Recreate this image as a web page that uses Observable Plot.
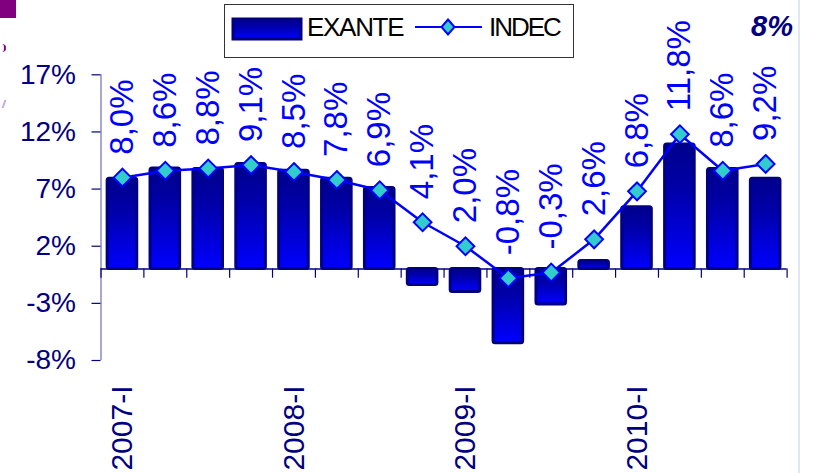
<!DOCTYPE html>
<html>
<head>
<meta charset="utf-8">
<script src="https://cdn.jsdelivr.net/npm/d3@7"></script>
<script src="https://cdn.jsdelivr.net/npm/@observablehq/plot@0.6"></script>
<style>
  html, body { margin: 0; padding: 0; background: #fff; }
  #wrap { position: relative; width: 814px; height: 473px; overflow: hidden; font-family: "Liberation Sans", Arial, sans-serif; }
  #chart { position: absolute; left: 0; top: 0; }
  #chart svg text { font-family: "Liberation Sans", Arial, sans-serif !important; }
  #legend { position: absolute; left: 224px; top: 4px; }
  #big8 { position: absolute; left: 751px; top: 10px; font: italic bold 29px "Liberation Sans", Arial, sans-serif; color: #000080; }
  #edge { position: absolute; left: 798px; top: 0; width: 2px; height: 473px; background: #dfe7f5; }
  #corner { position: absolute; left: 0; top: 0; width: 16px; height: 18px; background: #800080; }
  #curl { position: absolute; left: 0; top: 44px; width: 4px; height: 8px; border-right: 2px solid #800080; border-radius: 0 6px 6px 0; }
  #tick { position: absolute; left: 0; top: 100px; width: 3px; height: 8px; border-right: 2px solid #c9a6f0; transform: skewX(-20deg); }
</style>
</head>
<body>
<div id="wrap">
  <div id="corner"></div>
  <div id="curl"></div>
  <div id="tick"></div>
  <div id="chart"></div>
  <div id="edge"></div>
  <div id="big8">8%</div>
  <div id="legend"></div>
</div>
<script>
// ---- data ----
const quarters = ["2007-I","2007-II","2007-III","2007-IV","2008-I","2008-II","2008-III","2008-IV",
                  "2009-I","2009-II","2009-III","2009-IV","2010-I","2010-II","2010-III","2010-IV"];
const exante = [7.9, 8.8, 8.75, 9.2, 8.6, 7.9, 7.1, -1.4, -2.0, -6.5, -3.1, 0.7, 5.4, 10.9, 8.75, 7.9];
const indec  = [8.0, 8.6, 8.8, 9.1, 8.5, 7.8, 6.9, 4.1, 2.0, -0.8, -0.3, 2.6, 6.8, 11.8, 8.6, 9.2];
const yTicks = [17, 12, 7, 2, -3, -8];
const xTickLabels = ["2007-I", "2008-I", "2009-I", "2010-I"];
const seriesNames = ["EXANTE", "INDEC"];

const data = quarters.map((q, i) => ({i, q, exante: exante[i], indec: indec[i]}));
const bounds = d3.range(-0.5, quarters.length, 1);
const xTickIdx = xTickLabels.map(l => quarters.indexOf(l));
const fmt = v => v.toFixed(1).replace(".", ",") + "%";

const NAVY = "#000080", BLUE = "#0000ff", TEAL = "#33cccc";
const FONT = "'Liberation Sans', Arial, sans-serif";

const defs = () => {
  const g = d3.create("svg:defs");
  const lg = g.append("linearGradient").attr("id", "barGrad")
    .attr("x1", 0).attr("y1", 0).attr("x2", 0).attr("y2", 1);
  lg.append("stop").attr("offset", "0%").attr("stop-color", "#00008c");
  lg.append("stop").attr("offset", "35%").attr("stop-color", "#0000a8");
  lg.append("stop").attr("offset", "100%").attr("stop-color", "#0000ff");
  return g.node();
};

const chart = Plot.plot({
  width: 814,
  height: 473,
  marginLeft: 100.5,
  marginRight: 27.4,
  marginTop: 74.3,
  marginBottom: 113,
  style: {fontFamily: FONT, color: NAVY, background: "transparent", overflow: "visible"},
  x: {type: "linear", domain: [-0.5, quarters.length - 0.5], label: null},
  y: {domain: [-8, 17], label: null},
  marks: [
    defs,
    Plot.ruleX([-0.5], {stroke: "#8a8ac6", strokeWidth: 1.5}),
    Plot.axisY({ticks: yTicks, tickFormat: d => d + "%", tickSize: 9, tickPadding: 16, fontSize: 28, fontFamily: FONT, label: null, stroke: NAVY, strokeWidth: 1.2}),
    Plot.axisX({ticks: xTickIdx, tickFormat: i => quarters[i], tickRotate: -90, tickSize: 0, tickPadding: 25, fontSize: 30, fontFamily: FONT, label: null}),
    Plot.ruleY([0], {stroke: NAVY, strokeWidth: 1.5}),
    Plot.ruleX(bounds, {y1: 0, y2: -0.8, stroke: NAVY, strokeWidth: 1.2}),
    Plot.rectY(data, {x1: d => d.i - 0.345, x2: d => d.i + 0.345, y1: 0, y2: "exante",
      fill: "url(#barGrad)", stroke: NAVY, strokeWidth: 3, rx: 2}),
    Plot.line(data, {x: "i", y: "indec", stroke: BLUE, strokeWidth: 2.5}),
    Plot.dot(data, {x: "i", y: "indec", symbol: "diamond2", r: 8, fill: TEAL, stroke: BLUE, strokeWidth: 2}),
    Plot.text(data, {x: "i", y: "indec", text: d => fmt(d.indec), rotate: -90, textAnchor: "start",
      dy: -23, fontSize: 33, fontFamily: FONT, fill: BLUE})
  ]
});
document.getElementById("chart").appendChild(chart);

// ---- legend ----
const lg = d3.select("#legend").append("svg").attr("width", 351).attr("height", 55)
  .style("font-family", FONT);
lg.append("rect").attr("x", 0.5).attr("y", 0.5).attr("width", 349).attr("height", 53)
  .attr("fill", "#fff").attr("stroke", "#333").attr("stroke-width", 1);
lg.append("rect").attr("x", 9).attr("y", 15).attr("width", 68).attr("height", 20)
  .attr("fill", "url(#barGrad)").attr("stroke", NAVY).attr("stroke-width", 3);
lg.append("text").attr("x", 83).attr("y", 32).attr("font-size", 26).attr("letter-spacing", -1.3)
  .attr("fill", "#000").text(seriesNames[0]);
lg.append("line").attr("x1", 191).attr("x2", 258).attr("y1", 23).attr("y2", 23)
  .attr("stroke", BLUE).attr("stroke-width", 2);
lg.append("path").attr("d", "M224,15.5 L230.5,23 L224,30.5 L217.5,23 Z")
  .attr("fill", TEAL).attr("stroke", BLUE).attr("stroke-width", 2);
lg.append("text").attr("x", 265).attr("y", 32).attr("font-size", 26).attr("letter-spacing", -2)
  .attr("fill", "#000").text(seriesNames[1]);
</script>
</body>
</html>
